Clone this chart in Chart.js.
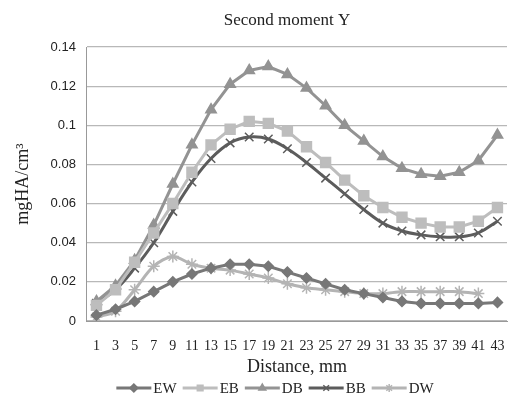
<!DOCTYPE html>
<html>
<head>
<meta charset="utf-8">
<script src="https://cdn.jsdelivr.net/npm/chart.js@4"></script>
<style>
  body { margin: 0; background: #fff; }
  #wrap { width: 517px; height: 406px; }
</style>
</head>
<body>
<div id="wrap"><canvas id="myChart"></canvas></div>
<script>
let distance = ["1","3","5","7","9","11","13","15","17","19","21","23","25","27","29","31","33","35","37","39","41","43"];
let ew = [0.003,0.006,0.010,0.015,0.020,0.024,0.027,0.029,0.029,0.028,0.025,0.022,0.019,0.016,0.014,0.012,0.010,0.009,0.009,0.009,0.009,0.0095];
let eb = [0.008,0.016,0.030,0.045,0.060,0.076,0.090,0.098,0.102,0.101,0.097,0.089,0.081,0.072,0.064,0.058,0.053,0.050,0.048,0.048,0.051,0.058];
let db = [0.010,0.018,0.031,0.049,0.070,0.090,0.108,0.121,0.128,0.130,0.126,0.119,0.110,0.100,0.092,0.084,0.078,0.075,0.074,0.076,0.082,0.095];
let bb = [0.009,0.016,0.027,0.040,0.056,0.071,0.083,0.091,0.094,0.093,0.088,0.081,0.073,0.065,0.057,0.050,0.046,0.044,0.043,0.043,0.045,0.051];
let dw = [0.002,0.005,0.016,0.028,0.033,0.029,0.027,0.026,0.024,0.022,0.019,0.017,0.016,0.015,0.014,0.014,0.015,0.015,0.015,0.015,0.014];
let yTicks = [0,0.02,0.04,0.06,0.08,0.1,0.12,0.14];

function line(label, data, color, style, radius, tension) {
  return {
    label: label,
    data: data,
    borderColor: color,
    backgroundColor: color,
    pointBorderColor: color,
    pointBackgroundColor: color,
    borderWidth: 3,
    pointStyle: style,
    pointRadius: radius,
    pointBorderWidth: 1.5,
    tension: tension
  };
}

// title on top and the legend (line + marker) at the bottom, like the excel one
const titleAndLegend = {
  id: "titleAndLegend",
  afterDraw(chart) {
    const g = chart.ctx;
    const a = chart.chartArea;
    g.save();
    g.fillStyle = "#222";
    g.textBaseline = "middle";
    g.textAlign = "center";
    g.font = "17px 'Liberation Serif'";
    g.fillText("Second moment Y", (a.left + a.right) / 2 - 10, 21);

    g.font = "15px 'Liberation Serif'";
    g.textAlign = "left";
    const iconW = 35;
    const sets = chart.data.datasets;
    let total = 0;
    sets.forEach(ds => { total += iconW + 2 + g.measureText(ds.label).width + 6; });
    total -= 6;
    let x = 275 - total / 2;
    const y = 388;
    sets.forEach(ds => {
      g.strokeStyle = ds.borderColor;
      g.lineWidth = 3;
      g.beginPath();
      g.moveTo(x, y);
      g.lineTo(x + iconW, y);
      g.stroke();
      g.fillStyle = ds.pointBackgroundColor;
      g.strokeStyle = ds.pointBorderColor;
      g.lineWidth = 1.5;
      Chart.helpers.drawPoint(g, { pointStyle: ds.pointStyle, radius: 4, rotation: 0, borderWidth: 1.5 }, x + iconW / 2, y);
      g.fillStyle = "#222";
      g.fillText(ds.label, x + iconW + 2, y + 1);
      x += iconW + 2 + g.measureText(ds.label).width + 6;
    });
    g.restore();
  }
};

const ctx = document.getElementById('myChart');
new Chart(ctx, {
  type: 'line',
  data: {
    labels: distance,
    datasets: [
      line("EW", ew, "#777777", "rectRot", 5, 0),
      line("EB", eb, "#bdbdbd", "rect", 7, 0),
      line("DB", db, "#939393", "triangle", 6, 0),
      line("BB", bb, "#5c5c5c", "crossRot", 6, 0.4),
      line("DW", dw, "#b4b4b4", "star", 6, 0.3)
    ]
  },
  plugins: [titleAndLegend],
  options: {
    responsive: true,
    maintainAspectRatio: false,
    animation: false,
    layout: { padding: { left: 8, right: 10, top: 47, bottom: 32 } },
    plugins: {
      title: { display: false },
      legend: { display: false }
    },
    scales: {
      x: {
        offset: true,
        grid: { display: false },
        border: { color: "#999" },
        afterFit: function (axis) { axis.height = 53; },
        ticks: {
          color: "#222",
          autoSkip: false,
          maxRotation: 0,
          font: { family: "Liberation Serif", size: 14 },
          padding: 9
        },
        title: {
          display: true,
          text: "Distance, mm",
          color: "#222",
          font: { family: "Liberation Serif", size: 18 },
          padding: { top: 0, bottom: -4 }
        }
      },
      y: {
        min: 0,
        max: 0.14,
        afterBuildTicks: function (axis) {
          axis.ticks = yTicks.map(v => ({ value: v }));
        },
        grid: { color: "#b8b8b8", lineWidth: 1.2, drawTicks: false },
        border: { color: "#999" },
        ticks: {
          color: "#222",
          padding: 11,
          font: { family: "Liberation Sans", size: 13 },
          callback: function (v) { return String(Math.round(v * 100) / 100); }
        },
        title: {
          display: true,
          text: "mgHA/cm³",
          color: "#222",
          font: { family: "Liberation Serif", size: 18 },
          padding: { bottom: 6 }
        }
      }
    }
  }
});
</script>
</body>
</html>
